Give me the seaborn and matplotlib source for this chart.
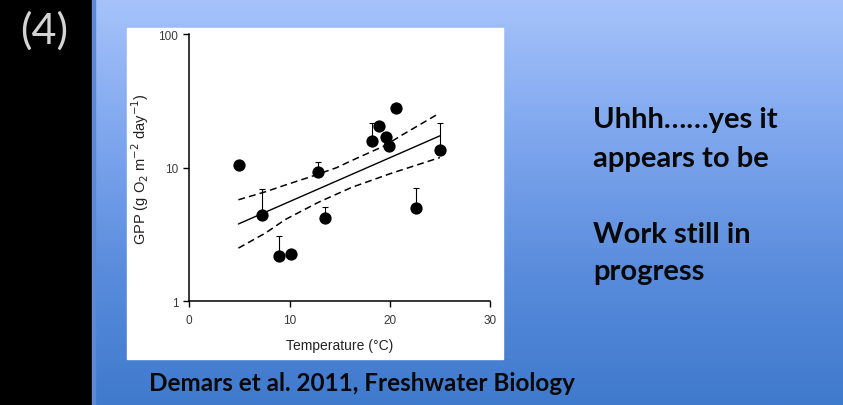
import numpy as np
import pandas as pd
import matplotlib
matplotlib.use("Agg")
import matplotlib.pyplot as plt
import seaborn as sns
from matplotlib.patches import Rectangle
from matplotlib.colors import LinearSegmentedColormap
from matplotlib.ticker import FixedLocator, LogLocator, NullFormatter

nan = np.nan
# ---- data ----
temperature = [4.99, 7.22, 8.98, 10.1, 12.84, 13.5, 18.22, 18.96, 19.59, 19.89, 20.59, 22.61, 25.0]
gpp = [10.5, 4.42, 2.20, 2.26, 9.28, 4.20, 15.7, 20.4, 16.9, 14.4, 27.8, 4.96, 13.6]
gpp_error_top = [nan, 6.92, 3.06, nan, 11.1, 5.11, 21.6, nan, nan, nan, nan, 7.05, 21.5]

fit_temperature = [4.9, 25.0]
fit_gpp = [3.79, 17.3]
ci_upper_temperature = [4.9, 7.6, 9.55, 12.0, 14.7, 16.2, 19.5, 21.2, 24.7]
ci_upper = [5.75, 6.6, 7.4, 8.5, 10.0, 11.3, 14.6, 17.5, 24.9]
ci_lower_temperature = [4.9, 7.6, 9.55, 12.87, 16.2, 20.2, 25.0]
ci_lower = [2.50, 3.24, 4.08, 5.50, 7.12, 9.1, 11.9]

x_ticks = [0, 10, 20, 30]
y_ticks = [1, 10, 100]
y_tick_labels = ["1", "10", "100"]

sns.set_style("white")
plt.rcParams['font.family'] = ['Liberation Sans', 'DejaVu Sans']

W, H = 843, 406
fig = plt.figure(figsize=(W / 100, H / 100), dpi=100)

# ---- slide background ----
bg = fig.add_axes([0, 0, 1, 1], zorder=0)
bg.set_xlim(0, W)
bg.set_ylim(H, 0)
bg.axis("off")
cmap = LinearSegmentedColormap.from_list("slide", ["#a6c3fa", "#7fa7ee", "#5a8cdc", "#3f7acd"])
grad = np.linspace(0, 1, 256).reshape(-1, 1)
bg.imshow(grad, cmap=cmap, extent=[0, W, H, 0], aspect="auto", zorder=0)
bg.add_patch(Rectangle((0, 0), 91.5, H, color="black", zorder=1))
bg.add_patch(Rectangle((91.5, 0), 3, H, color="#5d8ad6", zorder=1))
bg.add_patch(Rectangle((127, 29), 376, 331, color="white", zorder=1))

bg.text(44, 44, "(4)", color="#d4d4d4", fontsize=31, family=["Lato", "DejaVu Sans"],
        fontweight="normal", ha="center", va="baseline", zorder=3)
txt_kw = dict(color="#080808", fontsize=21, family=["Lato", "DejaVu Sans"], fontweight="bold",
              ha="left", va="baseline", zorder=3)
bg.text(593, 128, "Uhhh\u2026\u2026yes it", **txt_kw)
bg.text(593, 167, "appears to be", **txt_kw)
bg.text(593, 243, "Work still in", **txt_kw)
bg.text(593, 280, "progress", **txt_kw)
bg.text(149, 391, "Demars et al. 2011, Freshwater Biology", color="#080808", fontsize=17.5,
        family=["Lato", "DejaVu Sans"], fontweight="bold", ha="left", va="baseline", zorder=3)

# ---- chart ----
ax = fig.add_axes([189.3 / W, 1 - 302.3 / H, (490 - 189.3) / W, (302.3 - 35) / H], zorder=2)
ax.set_facecolor("none")

df = pd.DataFrame({"temperature": temperature, "gpp": gpp, "top": gpp_error_top})
eb = df.dropna()
ax.errorbar(eb["temperature"], eb["gpp"], yerr=[np.zeros(len(eb)), eb["top"] - eb["gpp"]],
            fmt="none", ecolor="black", elinewidth=0.8, capsize=2.5, capthick=0.8, zorder=2)

fit_df = pd.DataFrame({"temperature": fit_temperature, "gpp": fit_gpp})
sns.lineplot(data=fit_df, x="temperature", y="gpp", color="black", lw=1.0, ax=ax, sort=False, zorder=3)
up_df = pd.DataFrame({"temperature": ci_upper_temperature, "gpp": ci_upper})
lo_df = pd.DataFrame({"temperature": ci_lower_temperature, "gpp": ci_lower})
for d in (up_df, lo_df):
    sns.lineplot(data=d, x="temperature", y="gpp", color="black", lw=1.1, ax=ax, sort=False, zorder=3)
for line in ax.lines[-2:]:
    line.set_dashes((4.5, 2.7))

sns.scatterplot(data=df, x="temperature", y="gpp", color="black", s=78, edgecolor="black",
                linewidth=0, ax=ax, zorder=4)

ax.set_yscale("log")
ax.set_xlim(0, 30)
ax.set_ylim(1, 100)
ax.xaxis.set_major_locator(FixedLocator(x_ticks))
ax.set_xticklabels([str(t) for t in x_ticks])
ax.yaxis.set_major_locator(FixedLocator(y_ticks))
ax.set_yticklabels(y_tick_labels)
ax.yaxis.set_minor_locator(LogLocator(base=10, subs=np.arange(2, 10)))
ax.yaxis.set_minor_formatter(NullFormatter())

for s in ("top", "right"):
    ax.spines[s].set_visible(False)
for s in ("left", "bottom"):
    ax.spines[s].set_color("black")
    ax.spines[s].set_linewidth(1.1)
ax.tick_params(axis="both", which="major", direction="out", length=4, width=1.0,
               colors="black", labelcolor="#3a3a3a", labelsize=8.5)
ax.tick_params(axis="x", which="major", pad=5)
ax.tick_params(axis="y", which="major", pad=4)
ax.tick_params(axis="y", which="minor", direction="out", length=3, width=0.9, color="black")
ax.tick_params(left=True, bottom=True)

ax.set_xlabel("Temperature (\u00b0C)", fontsize=10, color="#222222")
ax.set_ylabel("GPP (g O$_2$ m$^{-2}$ day$^{-1}$)", fontsize=10.5, color="#222222")
ax.xaxis.set_label_coords(0.5, (302.3 - 346) / 267.3, transform=ax.transAxes)
ax.yaxis.set_label_coords((140 - 189.3) / 300.7, 0.5, transform=ax.transAxes)
ax.xaxis.label.set_va("center")
ax.yaxis.label.set_va("center")

fig.savefig("out.png", dpi=100)
